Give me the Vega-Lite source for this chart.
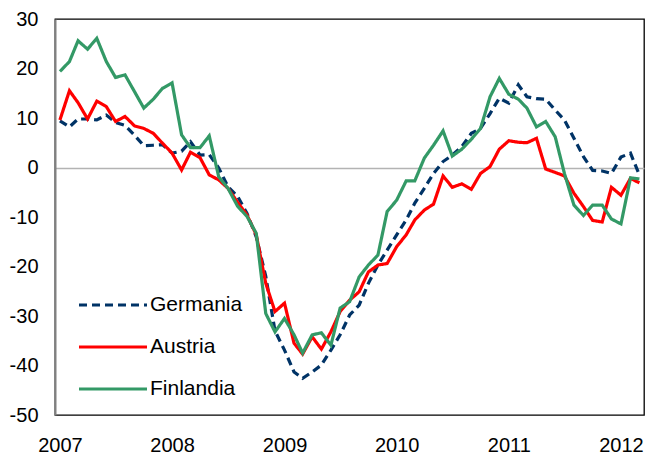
{
  "$schema": "https://vega.github.io/schema/vega-lite/v6.json",
  "width": 589,
  "height": 396,
  "autosize": {"type": "none"},
  "padding": {"left": 55, "top": 19, "right": 18, "bottom": 40},
  "config": {
    "font": "Liberation Sans",
    "view": {"stroke": "#000000", "strokeWidth": 1.3},
    "legend": {
      "orient": "none",
      "legendX": 22,
      "legendY": 271,
      "title": null,
      "symbolType": "stroke",
      "symbolSize": 4624,
      "symbolStrokeWidth": 3.2,
      "labelFontSize": 21,
      "labelColor": "#000000",
      "clipHeight": 30,
      "rowPadding": 12,
      "labelOffset": 1,
      "padding": 0
    }
  },
  "data": {
    "values": [
      {"date": "2007-01-01", "Germania": 9.4, "Austria": 9.6, "Finlandia": 19.4},
      {"date": "2007-02-01", "Germania": 8.2, "Austria": 15.5, "Finlandia": 21.4},
      {"date": "2007-03-01", "Germania": 9.8, "Austria": 13.1, "Finlandia": 25.6},
      {"date": "2007-04-01", "Germania": 9.8, "Austria": 9.8, "Finlandia": 23.9},
      {"date": "2007-05-01", "Germania": 9.6, "Austria": 13.4, "Finlandia": 26.1},
      {"date": "2007-06-01", "Germania": 10.6, "Austria": 12.3, "Finlandia": 21.4},
      {"date": "2007-07-01", "Germania": 9.1, "Austria": 9.3, "Finlandia": 18.2},
      {"date": "2007-08-01", "Germania": 8.5, "Austria": 10.3, "Finlandia": 18.7},
      {"date": "2007-09-01", "Germania": 6.5, "Austria": 8.4, "Finlandia": 15.3},
      {"date": "2007-10-01", "Germania": 4.4, "Austria": 7.9, "Finlandia": 12.0},
      {"date": "2007-11-01", "Germania": 4.5, "Austria": 6.9, "Finlandia": 13.8},
      {"date": "2007-12-01", "Germania": 4.6, "Austria": 4.9, "Finlandia": 16.0},
      {"date": "2008-01-01", "Germania": 2.9, "Austria": 2.9, "Finlandia": 17.1},
      {"date": "2008-02-01", "Germania": 3.3, "Austria": -0.5, "Finlandia": 6.6},
      {"date": "2008-03-01", "Germania": 5.2, "Austria": 3.1, "Finlandia": 4.0},
      {"date": "2008-04-01", "Germania": 2.5, "Austria": 2.0, "Finlandia": 4.0},
      {"date": "2008-05-01", "Germania": 2.6, "Austria": -1.5, "Finlandia": 6.4},
      {"date": "2008-06-01", "Germania": -0.1, "Austria": -2.5, "Finlandia": -1.9},
      {"date": "2008-07-01", "Germania": -3.9, "Austria": -4.2, "Finlandia": -4.2},
      {"date": "2008-08-01", "Germania": -5.8, "Austria": -7.0, "Finlandia": -7.8},
      {"date": "2008-09-01", "Germania": -9.3, "Austria": -9.6, "Finlandia": -9.9},
      {"date": "2008-10-01", "Germania": -14.0, "Austria": -13.6, "Finlandia": -13.3},
      {"date": "2008-11-01", "Germania": -22.0, "Austria": -23.4, "Finlandia": -29.5},
      {"date": "2008-12-01", "Germania": -33.0, "Austria": -29.1, "Finlandia": -33.2},
      {"date": "2009-01-01", "Germania": -36.9, "Austria": -27.4, "Finlandia": -30.5},
      {"date": "2009-02-01", "Germania": -41.3, "Austria": -35.5, "Finlandia": -33.8},
      {"date": "2009-03-01", "Germania": -42.6, "Austria": -37.7, "Finlandia": -37.5},
      {"date": "2009-04-01", "Germania": -41.3, "Austria": -34.2, "Finlandia": -33.8},
      {"date": "2009-05-01", "Germania": -39.9, "Austria": -36.7, "Finlandia": -33.4},
      {"date": "2009-06-01", "Germania": -36.9, "Austria": -33.2, "Finlandia": -35.9},
      {"date": "2009-07-01", "Germania": -33.8, "Austria": -29.1, "Finlandia": -28.4},
      {"date": "2009-08-01", "Germania": -29.8, "Austria": -26.8, "Finlandia": -27.1},
      {"date": "2009-09-01", "Germania": -27.8, "Austria": -25.1, "Finlandia": -22.1},
      {"date": "2009-10-01", "Germania": -23.4, "Austria": -21.1, "Finlandia": -19.7},
      {"date": "2009-11-01", "Germania": -19.7, "Austria": -19.7, "Finlandia": -17.7},
      {"date": "2009-12-01", "Germania": -16.7, "Austria": -19.4, "Finlandia": -8.9},
      {"date": "2010-01-01", "Germania": -13.6, "Austria": -16.0, "Finlandia": -6.6},
      {"date": "2010-02-01", "Germania": -10.6, "Austria": -13.6, "Finlandia": -2.7},
      {"date": "2010-03-01", "Germania": -7.2, "Austria": -10.6, "Finlandia": -2.7},
      {"date": "2010-04-01", "Germania": -4.2, "Austria": -8.6, "Finlandia": 1.9},
      {"date": "2010-05-01", "Germania": -1.2, "Austria": -7.4, "Finlandia": 4.5},
      {"date": "2010-06-01", "Germania": 1.2, "Austria": -1.7, "Finlandia": 7.4},
      {"date": "2010-07-01", "Germania": 2.5, "Austria": -4.0, "Finlandia": 2.3},
      {"date": "2010-08-01", "Germania": 4.2, "Austria": -3.3, "Finlandia": 3.7},
      {"date": "2010-09-01", "Germania": 6.9, "Austria": -4.4, "Finlandia": 5.7},
      {"date": "2010-10-01", "Germania": 7.9, "Austria": -1.2, "Finlandia": 7.9},
      {"date": "2010-11-01", "Germania": 10.9, "Austria": 0.2, "Finlandia": 14.3},
      {"date": "2010-12-01", "Germania": 14.0, "Austria": 3.7, "Finlandia": 18.0},
      {"date": "2011-01-01", "Germania": 13.0, "Austria": 5.4, "Finlandia": 14.8},
      {"date": "2011-02-01", "Germania": 16.7, "Austria": 5.1, "Finlandia": 13.8},
      {"date": "2011-03-01", "Germania": 14.3, "Austria": 5.0, "Finlandia": 12.0},
      {"date": "2011-04-01", "Germania": 13.9, "Austria": 5.9, "Finlandia": 8.2},
      {"date": "2011-05-01", "Germania": 13.8, "Austria": -0.3, "Finlandia": 9.3},
      {"date": "2011-06-01", "Germania": 11.6, "Austria": -1.0, "Finlandia": 6.2},
      {"date": "2011-07-01", "Germania": 9.6, "Austria": -1.7, "Finlandia": -1.2},
      {"date": "2011-08-01", "Germania": 5.9, "Austria": -5.2, "Finlandia": -7.6},
      {"date": "2011-09-01", "Germania": 2.2, "Austria": -7.9, "Finlandia": -9.7},
      {"date": "2011-10-01", "Germania": -0.6, "Austria": -10.7, "Finlandia": -7.6},
      {"date": "2011-11-01", "Germania": -0.7, "Austria": -11.0, "Finlandia": -7.6},
      {"date": "2011-12-01", "Germania": -1.2, "Austria": -4.0, "Finlandia": -10.4},
      {"date": "2012-01-01", "Germania": 2.1, "Austria": -5.6, "Finlandia": -11.4},
      {"date": "2012-02-01", "Germania": 2.9, "Austria": -2.2, "Finlandia": -2.1},
      {"date": "2012-03-01", "Germania": -1.5, "Austria": -3.1, "Finlandia": -2.3}
    ]
  },
  "transform": [
    {"fold": ["Germania", "Austria", "Finlandia"], "as": ["series", "value"]}
  ],
  "mark": {"type": "line", "strokeWidth": 3.2, "strokeCap": "butt", "strokeJoin": "miter"},
  "encoding": {
    "x": {
      "field": "date",
      "type": "temporal",
      "scale": {
        "type": "utc",
        "domain": [
          {"year": 2006, "month": 12, "date": 16, "utc": true},
          {"year": 2012, "month": 3, "date": 16, "utc": true}
        ]
      },
      "axis": {
        "title": null,
        "domain": false,
        "ticks": false,
        "grid": false,
        "format": "%Y",
        "values": [
          {"year": 2007, "month": 1, "date": 1, "utc": true},
          {"year": 2008, "month": 1, "date": 1, "utc": true},
          {"year": 2009, "month": 1, "date": 1, "utc": true},
          {"year": 2010, "month": 1, "date": 1, "utc": true},
          {"year": 2011, "month": 1, "date": 1, "utc": true},
          {"year": 2012, "month": 1, "date": 1, "utc": true}
        ],
        "labelFontSize": 20,
        "labelColor": "#000000",
        "labelBaseline": "alphabetic",
        "labelPadding": 36,
        "labelFlush": false,
        "labelOverlap": false
      }
    },
    "y": {
      "field": "value",
      "type": "quantitative",
      "scale": {"domain": [-50, 30], "nice": false, "zero": false},
      "axis": {
        "title": null,
        "values": [-50, -40, -30, -20, -10, 0, 10, 20, 30],
        "labelExpr": "toString(datum.value)",
        "domainColor": "#808080",
        "domainWidth": 2,
        "ticks": false,
        "grid": true,
        "gridColor": {"condition": {"test": "datum.value === 0", "value": "#B3B3B3"}, "value": "transparent"},
        "gridWidth": 1.6,
        "labelFontSize": 20,
        "labelColor": "#000000",
        "labelPadding": 17,
        "labelFlush": false,
        "labelOverlap": false
      }
    },
    "color": {
      "field": "series",
      "type": "nominal",
      "sort": ["Germania", "Austria", "Finlandia"],
      "scale": {"domain": ["Germania", "Austria", "Finlandia"], "range": ["#003366", "#FF0000", "#339966"]}
    },
    "strokeDash": {
      "field": "series",
      "type": "nominal",
      "sort": ["Germania", "Austria", "Finlandia"],
      "scale": {"domain": ["Germania", "Austria", "Finlandia"], "range": [[8, 5], [1, 0], [1, 0]]}
    }
  }
}
